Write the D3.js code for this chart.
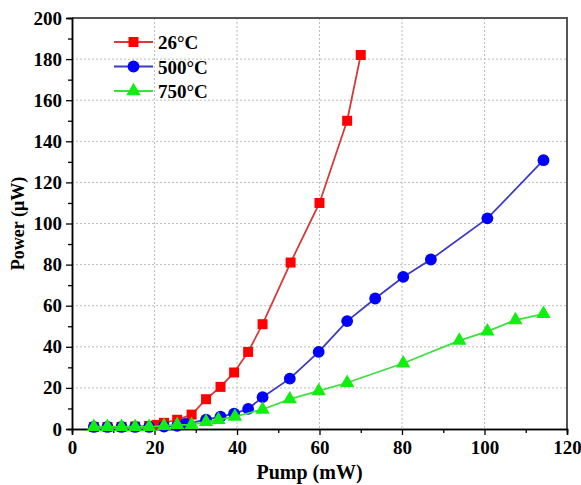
<!DOCTYPE html>
<html>
<head>
<meta charset="utf-8">
<script src="https://cdn.jsdelivr.net/npm/d3@7"></script>
<style>
  body { margin: 0; background: #fff; }
  text { font-family: "Liberation Serif", "Times New Roman", serif; font-weight: bold; }
</style>
</head>
<body>
<svg id="chart"></svg>
<script>
// Data
const pump26 = [5.3, 8.6, 12, 15.3, 18.7, 20.5, 22.3, 25.5, 29, 32.5, 36, 39.3, 42.7, 46.2, 53, 60, 66.7, 70];
const power26 = [1, 1, 1, 1.2, 1.5, 2, 3, 4.5, 7, 14.5, 20.5, 27.5, 37.5, 51, 81, 110, 150, 182];

const pump500 = [5.3, 8.6, 12, 15.3, 18.7, 22.3, 25.5, 27.5, 32.5, 36, 39.3, 42.7, 46.2, 52.8, 59.8, 66.7, 73.5, 80.3, 87, 100.7, 114.3];
const power500 = [1, 1, 1, 1, 1, 1.2, 1.5, 2.5, 4.5, 6, 7.5, 9.8, 15.5, 24.5, 37.5, 52.5, 63.5, 74, 82.5, 102.5, 130.8];

const pump750 = [5.3, 8.6, 12, 15.3, 18.7, 22.3, 25.5, 29, 32.5, 35.5, 39.5, 46.2, 52.8, 59.8, 66.7, 80.3, 93.9, 100.7, 107.5, 114.3];
const power750 = [1, 1, 1, 1, 1, 1.5, 2, 2, 3.5, 4.5, 6, 9.5, 14.5, 18.5, 22.5, 32, 43, 47.5, 53, 56];

const seriesNames = ["26\u00B0C", "500\u00B0C", "750\u00B0C"];
const xTicks = [0, 20, 40, 60, 80, 100, 120];
const yTicks = [0, 20, 40, 60, 80, 100, 120, 140, 160, 180, 200];

const width = 581, height = 485;
const margin = { top: 18, right: 14, bottom: 56, left: 72 };
const innerW = width - margin.left - margin.right;
const innerH = height - margin.top - margin.bottom;

const svg = d3.select("#chart").attr("width", width).attr("height", height);
const g = svg.append("g").attr("transform", `translate(${margin.left},${margin.top})`);

const x = d3.scaleLinear().domain([0, 120]).range([0, innerW]);
const y = d3.scaleLinear().domain([0, 200]).range([innerH, 0]);

// Grid
g.append("g")
  .selectAll("line")
  .data(xTicks.slice(1, -1))
  .enter()
  .append("line")
  .attr("x1", (d) => x(d)).attr("x2", (d) => x(d))
  .attr("y1", 0).attr("y2", innerH)
  .attr("stroke", "#bdbdbd").attr("stroke-dasharray", "2,2");
g.append("g")
  .selectAll("line")
  .data(yTicks.slice(1, -1))
  .enter()
  .append("line")
  .attr("x1", 0).attr("x2", innerW)
  .attr("y1", (d) => y(d)).attr("y2", (d) => y(d))
  .attr("stroke", "#bdbdbd").attr("stroke-dasharray", "2,2");

// Frame top / right
g.append("path")
  .attr("d", `M0,0H${innerW}V${innerH}`)
  .attr("fill", "none").attr("stroke", "#555").attr("stroke-width", 2);

// Axes
g.append("g")
  .attr("transform", `translate(0,${innerH})`)
  .call(d3.axisBottom(x).tickValues(xTicks).tickSize(6).tickPadding(6));
g.append("g")
  .attr("transform", `translate(0,${innerH})`)
  .call(d3.axisBottom(x).tickValues(d3.range(10, 120, 20)).tickSize(4).tickFormat(""));
g.append("g")
  .call(d3.axisLeft(y).tickValues(yTicks).tickSize(6).tickPadding(4));
g.append("g")
  .call(d3.axisLeft(y).tickValues(d3.range(10, 200, 20)).tickSize(4).tickFormat(""));

g.selectAll(".domain").attr("stroke", "#000").attr("stroke-width", 1.5);
g.selectAll(".tick line").attr("stroke", "#000").attr("stroke-width", 1.3);
g.selectAll(".tick text").attr("font-size", 19).attr("fill", "#000")
  .style("font-family", "'Liberation Serif', serif").style("font-weight", "bold");

// Axis titles
svg.append("text")
  .attr("x", margin.left + x(60) - 10).attr("y", 479)
  .attr("text-anchor", "middle").attr("font-size", 20)
  .text("Pump (mW)");
svg.append("text")
  .attr("transform", `translate(24,${margin.top + y(100)}) rotate(-90)`)
  .attr("text-anchor", "middle").attr("font-size", 18)
  .text("Power (\u03BCW)");

// Series
const series = [
  { name: seriesNames[0], xs: pump26, ys: power26, line: "#d63a3a", fill: "#ff0000", shape: d3.symbolSquare, size: 100 },
  { name: seriesNames[1], xs: pump500, ys: power500, line: "#3b3bc4", fill: "#0000ff", shape: d3.symbolCircle, size: 110 },
  { name: seriesNames[2], xs: pump750, ys: power750, line: "#3ee03e", fill: "#11ee11", shape: d3.symbolTriangle, size: 90 },
];

const lineGen = d3.line().x((d) => x(d[0])).y((d) => y(d[1]));

series.forEach((s) => {
  const pts = s.xs.map((v, i) => [v, s.ys[i]]);
  g.append("path")
    .datum(pts)
    .attr("d", lineGen)
    .attr("fill", "none")
    .attr("stroke", s.line)
    .attr("stroke-width", 1.8);
  g.selectAll(null)
    .data(pts)
    .enter()
    .append("path")
    .attr("d", d3.symbol().type(s.shape).size(s.size))
    .attr("transform", (d) => `translate(${x(d[0])},${y(d[1])})`)
    .attr("fill", s.fill);
});

// Legend
const legend = g.append("g").attr("transform", "translate(42,24)");
series.forEach((s, i) => {
  const row = legend.append("g").attr("transform", `translate(0,${i * 24.5})`);
  row.append("line").attr("x1", 0).attr("x2", 39).attr("y1", 0).attr("y2", 0)
    .attr("stroke", s.line).attr("stroke-width", 1.8);
  row.append("path")
    .attr("d", d3.symbol().type(s.shape).size(s.size))
    .attr("transform", "translate(19.5,0)")
    .attr("fill", s.fill);
  row.append("text")
    .attr("x", 44).attr("y", 7)
    .attr("font-size", 19)
    .text(s.name);
});
</script>
</body>
</html>
